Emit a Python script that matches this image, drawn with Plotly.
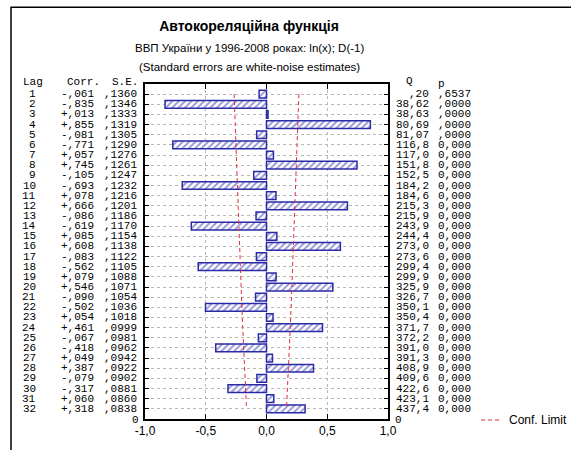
import plotly.graph_objects as go

lags = list(range(1, 33))
corr = [-0.061, -0.835, 0.013, 0.855, -0.081, -0.771, 0.057, 0.745, -0.105, -0.693,
        0.078, 0.666, -0.086, -0.619, 0.085, 0.608, -0.083, -0.562, 0.079, 0.546,
        -0.090, -0.502, 0.054, 0.461, -0.067, -0.418, 0.049, 0.387, -0.079, -0.317,
        0.060, 0.318]
se = [0.1360, 0.1346, 0.1333, 0.1319, 0.1305, 0.1290, 0.1276, 0.1261, 0.1247, 0.1232,
      0.1216, 0.1201, 0.1186, 0.1170, 0.1154, 0.1138, 0.1122, 0.1105, 0.1088, 0.1071,
      0.1054, 0.1036, 0.1018, 0.0999, 0.0981, 0.0962, 0.0942, 0.0922, 0.0902, 0.0881,
      0.0860, 0.0838]
q_stat = [0.20, 38.62, 38.63, 80.69, 81.07, 116.8, 117.0, 151.8, 152.5, 184.2,
          184.6, 215.3, 215.9, 243.9, 244.4, 273.0, 273.6, 299.4, 299.9, 325.9,
          326.7, 350.1, 350.4, 371.7, 372.2, 391.0, 391.3, 408.9, 409.6, 422.6,
          423.1, 437.4]
p_labels = [",6537", ",0000", ",0000", ",0000", ",0000"] + ["0,000"] * 27
x_tickvals = [-1.0, -0.5, 0.0, 0.5, 1.0]
x_ticktext = ["-1,0", "-0,5", "0,0", "0,5", "1,0"]

conf_upper = [1.96 * s for s in se]
conf_lower = [-1.96 * s for s in se]

# plot area in pixels
W, H = 571, 450
PL, PR, PT, PB = 145, 388, 84, 424


def px_x(p):
    return (p - PL) / (PR - PL)


def px_y(p):
    return (PB - p) / (PB - PT)


def fmt_corr(v):
    s = f"{abs(v):.3f}".lstrip("0").replace(".", ",")
    return ("+" if v >= 0 else "-") + s


def fmt_se(v):
    return f"{v:.4f}".lstrip("0").replace(".", ",")


def fmt_q(v):
    if v < 1:
        s = f"{v:.2f}".lstrip("0")
    elif v < 100:
        s = f"{v:.2f}"
    else:
        s = f"{v:.1f}"
    return s.replace(".", ",")


BAR_EDGE = "#2a2aa6"
BAR_HATCH = "#3030b4"
RED = "#e0303a"
MONO = "Liberation Mono"
SANS = "Liberation Sans"

fig = go.Figure()
fig.add_trace(go.Bar(
    x=corr, y=lags, orientation="h", width=0.76, showlegend=False,
    marker=dict(color=BAR_HATCH, line=dict(color=BAR_EDGE, width=1.5),
                pattern=dict(shape="/", fgcolor=BAR_HATCH, bgcolor="white",
                             size=4.5, solidity=0.42)),
    hoverinfo="skip"))
fig.add_trace(go.Scatter(
    x=conf_upper, y=lags, mode="lines", showlegend=False,
    line=dict(color=RED, width=1, dash="4px,3px")))
fig.add_trace(go.Scatter(
    x=conf_lower, y=lags, mode="lines", showlegend=False,
    line=dict(color=RED, width=1, dash="4px,3px")))

ann = []
mono = dict(family=MONO, size=11, color="black")
row_box = dict(showarrow=False, yanchor="middle", font=mono,
               xref="paper", yref="y")
for i, lag in enumerate(lags):
    ann.append(dict(x=px_x(38), y=lag, text=str(lag), xanchor="right", **row_box))
    ann.append(dict(x=px_x(96), y=lag, text=fmt_corr(corr[i]), xanchor="right", **row_box))
    ann.append(dict(x=px_x(139), y=lag, text=fmt_se(se[i]), xanchor="right", **row_box))
    ann.append(dict(x=px_x(431), y=lag, text=fmt_q(q_stat[i]), xanchor="right", **row_box))
    ann.append(dict(x=px_x(473), y=lag, text=p_labels[i], xanchor="right", **row_box))

headers = [("Lag", 33, 82), ("Corr.", 83, 82), ("S.E.", 125, 82),
           ("Q", 409, 81), ("p", 441, 84)]
for txt, xc, yp in headers:
    ann.append(dict(x=px_x(xc), y=px_y(yp), xref="paper", yref="paper", text=txt,
                    showarrow=False, xanchor="center", yanchor="middle", font=mono))
for xc in (135, 398):
    ann.append(dict(x=px_x(xc), y=px_y(425), xref="paper", yref="paper", text="0",
                    showarrow=False, xanchor="center", yanchor="middle", font=mono))

ann.append(dict(x=px_x(249), y=px_y(47), xref="paper", yref="paper",
                text="ВВП України у 1996-2008 роках: ln(x); D(-1)", showarrow=False,
                xanchor="center", yanchor="middle",
                font=dict(family=SANS, size=11.5, color="black")))
ann.append(dict(x=px_x(249), y=px_y(67), xref="paper", yref="paper",
                text="(Standard errors are white-noise estimates)", showarrow=False,
                xanchor="center", yanchor="middle",
                font=dict(family=SANS, size=11.5, color="black")))
# legend entry for the confidence limit lines
ann.append(dict(x=px_x(507), y=px_y(425), xref="paper", yref="paper",
                text="Conf. Limit", showarrow=False, xanchor="left", yanchor="middle",
                font=dict(family=SANS, size=12, color="black")))

fig.update_layout(
    width=W, height=H, autosize=False,
    margin=dict(l=PL, r=W - PR, t=PT, b=H - PB, pad=0),
    paper_bgcolor="white", plot_bgcolor="white",
    title=dict(text="<b>Автокореляційна функція</b>", x=249 / W, xanchor="center",
               y=1 - 26 / H, yanchor="middle",
               font=dict(family=SANS, size=14, color="black")),
    annotations=ann,
    showlegend=False,
    shapes=[dict(type="rect", xref="paper", yref="paper",
                 x0=px_x(11), x1=px_x(600), y0=px_y(480), y1=px_y(6),
                 line=dict(color="black", width=1.5), fillcolor="rgba(0,0,0,0)",
                 layer="below"),
            dict(type="line", xref="paper", yref="paper",
                 x0=px_x(481), x1=px_x(499), y0=px_y(425), y1=px_y(425),
                 line=dict(color=RED, width=1, dash="4px,3px"))],
)
fig.update_xaxes(
    range=[-1, 1], tickvals=x_tickvals, ticktext=x_ticktext,
    ticks="inside", ticklen=5, tickcolor="black", mirror="ticks",
    showline=True, linecolor="black", linewidth=1.5,
    showgrid=True, gridcolor="#b8b8b8", griddash="dot", gridwidth=1,
    zeroline=False, tickfont=dict(family=SANS, size=12, color="black"))
fig.update_yaxes(
    range=[33, 0], tickvals=lags, showticklabels=False,
    ticks="inside", ticklen=4, tickcolor="black", mirror="ticks",
    showline=True, linecolor="black", linewidth=1.5,
    showgrid=True, gridcolor="#b8b8b8", griddash="dot", gridwidth=1,
    zeroline=False)

fig.write_html("out.html", config={"displayModeBar": False},
               post_script="document.body.style.margin='0';")
